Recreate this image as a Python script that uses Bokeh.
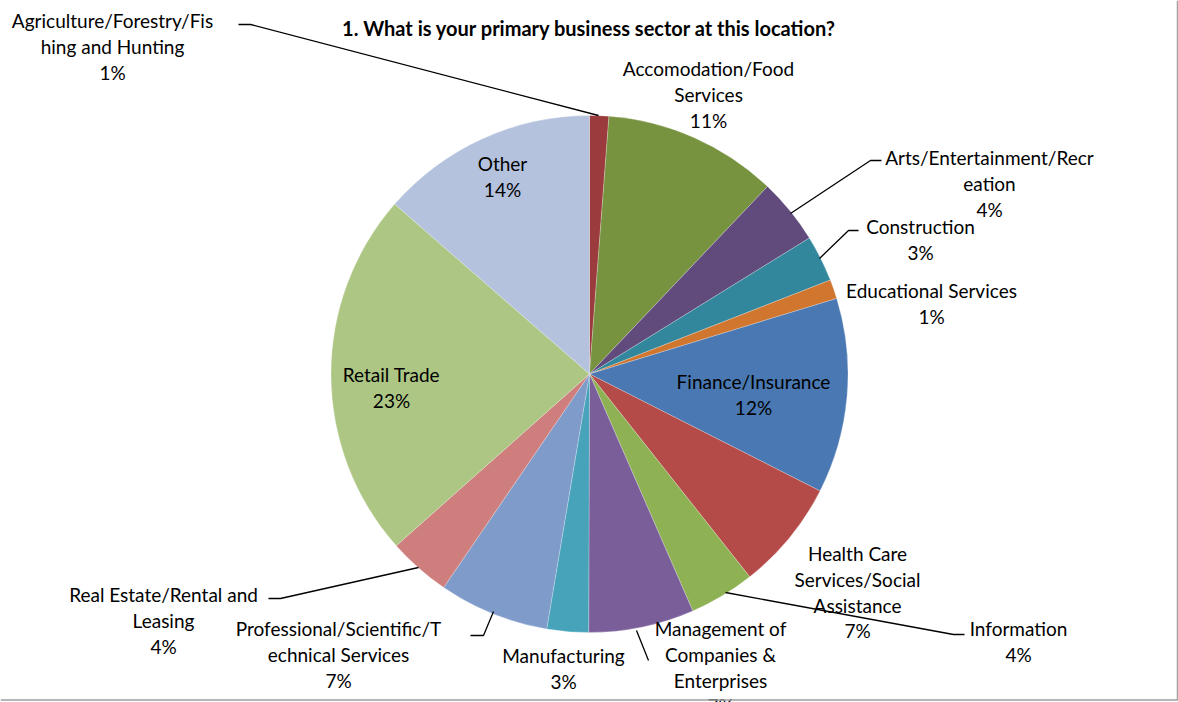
import math
from bokeh.plotting import figure
from bokeh.models import Range1d, ColumnDataSource
from bokeh.core.properties import value
from bokeh.embed import file_html
from bokeh.resources import INLINE

# ---- data ----
sectors = [
    "Agriculture/Forestry/Fishing and Hunting",
    "Accomodation/Food Services",
    "Arts/Entertainment/Recreation",
    "Construction",
    "Educational Services",
    "Finance/Insurance",
    "Health Care Services/Social Assistance",
    "Information",
    "Management of Companies & Enterprises",
    "Manufacturing",
    "Professional/Scientific/Technical Services",
    "Real Estate/Rental and Leasing",
    "Retail Trade",
    "Other",
]
shares = [1.2, 10.9, 4.1, 2.9, 1.2, 12.2, 6.9, 4.1, 6.6, 2.6, 6.9, 3.9, 23.0, 13.6]
colors = ["#9B3B3D", "#78933F", "#614A7C", "#33879C", "#D0762E", "#4A78B2",
          "#B54B48", "#8EB153", "#7A5E9A", "#46A3BA", "#7F9BCA", "#CE7E7C",
          "#ADC684", "#B4C2DD"]
# label text broken into lines as in the reference
label_lines = [
    ["Agriculture/Forestry/Fis", "hing and Hunting"],
    ["Accomodation/Food", "Services"],
    ["Arts/Entertainment/Recr", "eation"],
    ["Construction"],
    ["Educational Services"],
    ["Finance/Insurance"],
    ["Health Care", "Services/Social", "Assistance"],
    ["Information"],
    ["Management of", "Companies &", "Enterprises"],
    ["Manufacturing"],
    ["Professional/Scientific/T", "echnical Services"],
    ["Real Estate/Rental and", "Leasing"],
    ["Retail Trade"],
    ["Other"],
]
title = "1. What is your primary business sector at this location?"

# ---- layout (screen pixels) ----
W, H = 1178, 702
CX, CY, R = 589, 373.5, 258.5
label_pos = [(112, 20), (708, 68), (989, 157), (920, 226), (931, 290), (753, 381),
             (857, 553), (1018, 628), (720, 628), (563, 655), (338, 628), (163, 594),
             (391, 374), (502, 163)]
leaders = {
    0: [(598, 115), (250, 24), (238, 24)],
    2: [(790, 213), (870, 160), (881, 160)],
    3: [(819, 258), (848, 230), (858, 230)],
    7: [(725, 592), (953, 634), (964, 634)],
    8: [(636, 630), (648, 660)],
    10: [(493, 611), (483, 635), (470, 635)],
    11: [(418, 567), (280, 598), (268, 598)],
}
LH = 25.8
FONT = "Lato"
FS = "19px"

p = figure(width=W, height=H, x_range=Range1d(0, W), y_range=Range1d(-H, 0),
           output_backend="svg", toolbar_location=None, x_axis_location=None,
           y_axis_location=None, min_border=0, outline_line_color=None,
           background_fill_color="white", border_fill_color="white")
p.grid.visible = False

total = sum(shares)
cum = 0.0
starts, ends = [], []
for s in shares:
    a0 = math.pi / 2 - cum / total * 2 * math.pi
    cum += s
    a1 = math.pi / 2 - cum / total * 2 * math.pi
    starts.append(a0)
    ends.append(a1)

src = ColumnDataSource(dict(start=starts, end=ends, color=colors, name=sectors))
p.wedge(x=CX, y=-CY, radius=R, start_angle="start", end_angle="end", direction="clock",
        fill_color="color", line_color="white", line_width=0.4, line_alpha=0.6, source=src)

# leader lines
for i, pts in leaders.items():
    p.line([q[0] for q in pts], [-q[1] for q in pts], line_color="black", line_width=1.3)

# labels
tx, ty, tt = [], [], []
for i, lines in enumerate(label_lines):
    x0, y0 = label_pos[i]
    pct = "%d%%" % round(shares[i] / total * 100 + 1e-9)
    for k, ln in enumerate(lines + [pct]):
        tx.append(x0)
        ty.append(-(y0 + k * LH))
        tt.append(ln)
p.text(x=tx, y=ty, text=tt, text_align="center", text_baseline="middle",
       text_font=value(FONT), text_font_size=FS, text_color="black")

p.text(x=[589], y=[-27], text=[title], text_align="center", text_baseline="middle",
       text_font=value(FONT), text_font_size="20px", text_font_style="bold", text_color="black")

# frame edges visible in the reference
p.line([0, 1177, 1177], [-699.5, -699.5, 0], line_color="#A0A0A0", line_width=1.5)

open("out.html", "w").write(file_html(p, INLINE))
